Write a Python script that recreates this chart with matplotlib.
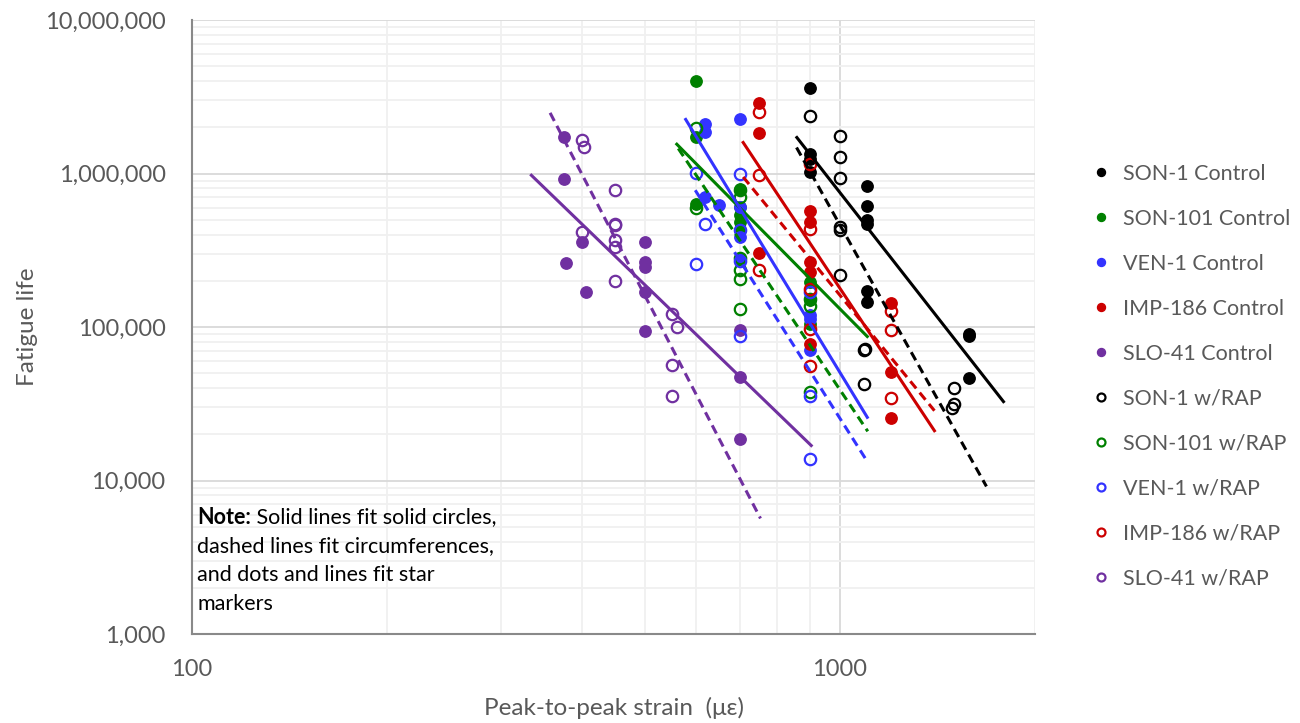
import numpy as np
import matplotlib
matplotlib.use("Agg")
import matplotlib.pyplot as plt
from matplotlib.ticker import FuncFormatter, LogLocator, NullFormatter

plt.rcParams['font.family'] = ['Lato', 'DejaVu Sans']

# --- data (strain in microstrain, fatigue life in cycles) ---
son1_ctrl_x = [900, 900, 900, 900, 1100, 1100, 1100, 1100, 1100, 1100, 1580, 1580, 1580]
son1_ctrl_y = [3585000, 1349000, 1250000, 1020000, 826000, 614000, 495000, 467000,
               171000, 145000, 90200, 87000, 46300]
son101_ctrl_x = [600, 600, 600, 700, 700, 700, 700, 700, 900, 900, 900]
son101_ctrl_y = [4018000, 1732000, 637000, 790000, 606000, 535000, 481000, 427000,
                 196000, 149000, 105000]
ven1_ctrl_x = [618, 618, 618, 650, 700, 700, 700, 700, 900, 900, 900]
ven1_ctrl_y = [2117000, 1868000, 703000, 621000, 2249000, 606000, 385000, 279000,
               119000, 113000, 70300]
imp186_ctrl_x = [750, 750, 750, 900, 900, 900, 900, 900, 1200, 1200, 1200]
imp186_ctrl_y = [2887000, 1841000, 303000, 567000, 483000, 265000, 228000, 77700,
                 143000, 50700, 25600]
slo41_ctrl_x = [375, 375, 378, 400, 405, 500, 500, 500, 500, 500, 700, 700, 700]
slo41_ctrl_y = [1732000, 927000, 260000, 356000, 170000, 356000, 264000, 245000,
                170000, 93900, 96000, 47000, 18600]

son1_rap_x = [900, 1000, 1000, 1000, 1000, 1000, 1000, 1090, 1095, 1090, 1500, 1500, 1490]
son1_rap_y = [2374000, 1768000, 1282000, 935000, 448000, 426000, 219000, 70300, 71600,
              42600, 40100, 31500, 29500]
son101_rap_x = [600, 600, 700, 700, 700, 700, 700, 700, 900, 900, 900]
son101_rap_y = [1965000, 600000, 786000, 700000, 283000, 234000, 206000, 131500,
                152000, 137000, 37500]
ven1_rap_x = [600, 618, 600, 700, 700, 700, 700, 900, 900, 900]
ven1_rap_y = [1009000, 471000, 258000, 1000000, 427000, 270000, 88000, 168000, 35700, 13800]
imp186_rap_x = [750, 750, 750, 900, 900, 900, 900, 900, 1200, 1200, 1200]
imp186_rap_y = [2521000, 974000, 234000, 1150000, 438000, 177000, 97300, 56100,
                128000, 95900, 34300]
slo41_rap_x = [400, 402, 400, 450, 450, 450, 450, 450, 450, 550, 560, 550, 550]
slo41_rap_y = [1648000, 1490000, 416000, 785000, 471000, 460000, 367000, 332000,
               198000, 121000, 100700, 56900, 35600]

# power-law trendline end points (strain, life)
son1_fit_x, son1_fit_y = [858, 1788], [1716000, 32650]
son1_rap_fit_x, son1_rap_fit_y = [857, 1683], [1477000, 9150]
son101_fit_x, son101_fit_y = [560, 1102], [1552000, 86700]
son101_rap_fit_x, son101_rap_fit_y = [563, 1104], [1455000, 20900]
ven1_fit_x, ven1_fit_y = [578, 1102], [2250000, 25800]
ven1_rap_fit_x, ven1_rap_fit_y = [598, 1102], [778000, 13300]
imp186_fit_x, imp186_fit_y = [709, 1399], [1592000, 21100]
imp186_rap_fit_x, imp186_rap_fit_y = [709, 1399], [949000, 28500]
slo41_fit_x, slo41_fit_y = [334, 903], [974000, 16900]
slo41_rap_fit_x, slo41_rap_fit_y = [357, 754], [2484000, 5660]

BLACK, GREEN, BLUE, RED, PURPLE = '#000000', '#008000', '#3333FF', '#CC0000', '#7030A0'
GRAY = '#595959'

fig = plt.figure(figsize=(13, 7.23), dpi=100)
ax = fig.add_axes([192 / 1300, 1 - 634 / 723, (1035 - 192) / 1300, (634 - 20) / 723])

controls = [
    ("SON-1 Control", son1_ctrl_x, son1_ctrl_y, BLACK),
    ("SON-101 Control", son101_ctrl_x, son101_ctrl_y, GREEN),
    ("VEN-1 Control", ven1_ctrl_x, ven1_ctrl_y, BLUE),
    ("IMP-186 Control", imp186_ctrl_x, imp186_ctrl_y, RED),
    ("SLO-41 Control", slo41_ctrl_x, slo41_ctrl_y, PURPLE),
]
raps = [
    ("SON-1 w/RAP", son1_rap_x, son1_rap_y, BLACK),
    ("SON-101 w/RAP", son101_rap_x, son101_rap_y, GREEN),
    ("VEN-1 w/RAP", ven1_rap_x, ven1_rap_y, BLUE),
    ("IMP-186 w/RAP", imp186_rap_x, imp186_rap_y, RED),
    ("SLO-41 w/RAP", slo41_rap_x, slo41_rap_y, PURPLE),
]
fits = [
    (son1_fit_x, son1_fit_y, BLACK, '-'), (son1_rap_fit_x, son1_rap_fit_y, BLACK, '--'),
    (son101_fit_x, son101_fit_y, GREEN, '-'), (son101_rap_fit_x, son101_rap_fit_y, GREEN, '--'),
    (ven1_fit_x, ven1_fit_y, BLUE, '-'), (ven1_rap_fit_x, ven1_rap_fit_y, BLUE, '--'),
    (imp186_fit_x, imp186_fit_y, RED, '-'), (imp186_rap_fit_x, imp186_rap_fit_y, RED, '--'),
    (slo41_fit_x, slo41_fit_y, PURPLE, '-'), (slo41_rap_fit_x, slo41_rap_fit_y, PURPLE, '--'),
]

for name, x, y, c in controls:
    ax.plot(x, y, 'o', color=c, ms=8.2, mec=c, label=name, zorder=3)
for name, x, y, c in raps:
    ax.plot(x, y, 'o', mfc='none', mec=c, ms=8.2, mew=1.6, label=name, zorder=3)
for x, y, c, ls in fits:
    style = '-' if ls == '-' else (0, (3.0, 1.8))
    ax.plot(x, y, color=c, lw=2.2, linestyle=style, zorder=4)

ax.set_xscale('log')
ax.set_yscale('log')
ax.set_xlim(100, 2000)
ax.set_ylim(1000, 1e7)

ax.xaxis.set_major_locator(LogLocator(base=10))
ax.xaxis.set_minor_locator(LogLocator(base=10, subs=np.arange(2, 10)))
ax.yaxis.set_major_locator(LogLocator(base=10))
ax.yaxis.set_minor_locator(LogLocator(base=10, subs=np.arange(2, 10)))
ax.xaxis.set_major_formatter(FuncFormatter(lambda v, p: f"{v:.0f}"))
ax.yaxis.set_major_formatter(FuncFormatter(lambda v, p: f"{v:,.0f}"))
ax.xaxis.set_minor_formatter(NullFormatter())
ax.yaxis.set_minor_formatter(NullFormatter())

ax.grid(True, which='major', color='#d9d9d9', lw=1.3, zorder=0)
ax.grid(True, which='minor', color='#f0f0f0', lw=1.3, zorder=0)
ax.set_axisbelow(True)

for s in ['top', 'right']:
    ax.spines[s].set_visible(False)
for s in ['left', 'bottom']:
    ax.spines[s].set_color('#898989')
    ax.spines[s].set_linewidth(1.5)

ax.tick_params(axis='both', which='both', length=0, labelcolor=GRAY, labelsize=17)
ax.tick_params(axis='y', pad=19)
ax.tick_params(axis='x', pad=18)

ax.set_xlabel("Peak-to-peak strain  (\u03bc\u03b5)", fontsize=17.5, color=GRAY, labelpad=12)
fig.text(28 / 1300, 1 - 327 / 723, "Fatigue life", rotation=90, ha='center', va='center',
         fontsize=17.5, color=GRAY)

# note, with bold lead-in
note = ax.text(0.006, 0.207, "Note:", transform=ax.transAxes, fontsize=15.5,
               fontweight='bold', va='top', ha='left', color='black')
ax.annotate(" Solid lines fit solid circles,", xy=(1, 1), xycoords=note,
            ha='left', va='top', fontsize=15.5, color='black')
ax.annotate("dashed lines fit circumferences,\nand dots and lines fit star\nmarkers",
            xy=(0.006, 0.207), xycoords='axes fraction', xytext=(0, -20.9),
            textcoords='offset points', ha='left', va='top', fontsize=15.5,
            linespacing=1.55, color='black')

leg = fig.legend(loc='center left', bbox_to_anchor=(1075 / 1300, 1 - 376 / 723),
                 frameon=False, fontsize=15.5, markerscale=0.7, handlelength=0.6,
                 handletextpad=0.75, labelspacing=1.16, labelcolor=GRAY)

fig.savefig("out.png", dpi=100)
